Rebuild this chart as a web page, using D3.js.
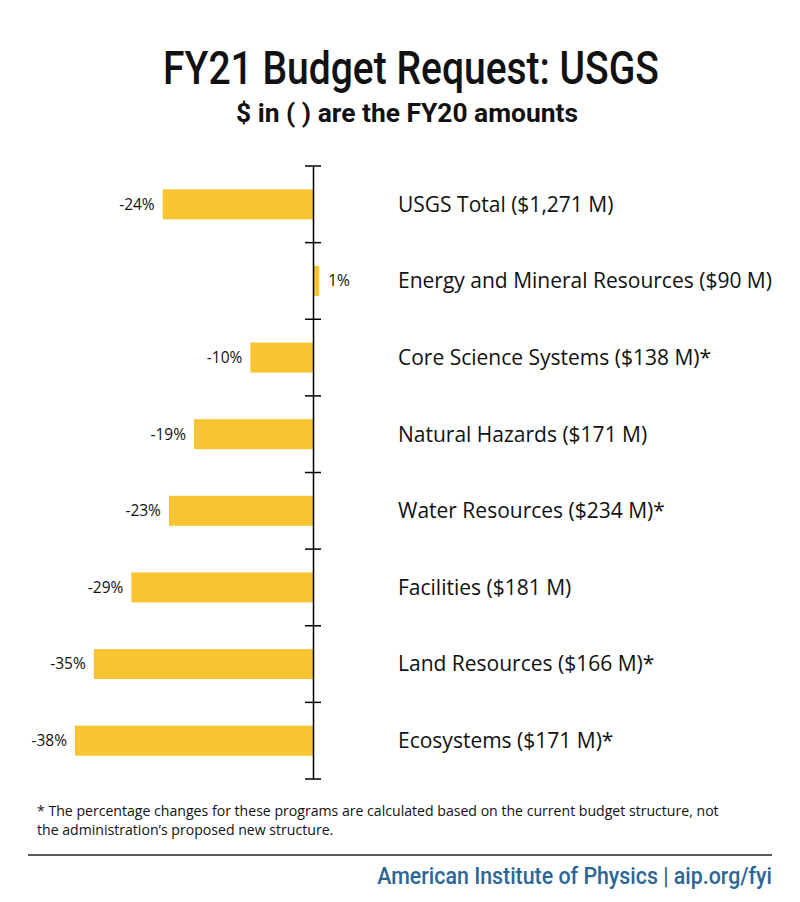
<!DOCTYPE html>
<html>
<head>
<meta charset="utf-8">
<script src="https://cdn.jsdelivr.net/npm/d3@7"></script>
<style>
  html, body { margin: 0; padding: 0; background: #fff; }
  svg { display: block; }
</style>
</head>
<body>
<svg id="chart" width="800" height="902"></svg>
<script>
const categories = [
  "USGS Total ($1,271 M)",
  "Energy and Mineral Resources ($90 M)",
  "Core Science Systems ($138 M)*",
  "Natural Hazards ($171 M)",
  "Water Resources ($234 M)*",
  "Facilities ($181 M)",
  "Land Resources ($166 M)*",
  "Ecosystems ($171 M)*"
];
const changes = [-24, 1, -10, -19, -23, -29, -35, -38];
const valueLabels = ["-24%", "1%", "-10%", "-19%", "-23%", "-29%", "-35%", "-38%"];
const titleText = "FY21 Budget Request: USGS";
const subtitleText = "$ in ( ) are the FY20 amounts";
const footnoteLines = [
  "* The percentage changes for these programs are calculated based on the current budget structure, not",
  "the administration\u2019s proposed new structure."
];
const creditText = "American Institute of Physics | aip.org/fyi";

const svg = d3.select("#chart");
const bodyFont = "'Open Sans', Lato, 'Noto Sans', sans-serif";
const condFont = "Roboto, 'Liberation Sans', sans-serif";

// Condensed-looking text: natural text scaled horizontally to a target width
function squeezed(txt, cx, cy, anchor, size, weight, width, fill) {
  const gg = svg.append("g");
  const t = gg.append("text")
    .attr("text-anchor", anchor)
    .attr("font-family", condFont)
    .attr("font-weight", weight)
    .attr("font-size", size)
    .attr("fill", fill)
    .text(txt);
  const len = t.node().getComputedTextLength();
  const s = width / len;
  gg.attr("transform", `translate(${cx},${cy}) scale(${s},1)`);
  return t;
}

squeezed(titleText, 411, 84, "middle", 46, 500, 496, "#111");
squeezed(subtitleText, 407, 122, "middle", 25, "bold", 342, "#111");

// Scales
const y = d3.scaleBand().domain(categories).range([166, 779]).padding(0);
const x = d3.scaleLinear().domain([-38, 0]).range([75, 313]);
const barH = 30;

const g = svg.append("g");

g.selectAll("rect.bar")
  .data(categories)
  .join("rect")
  .attr("class", "bar")
  .attr("x", (d, i) => Math.min(x(changes[i]), x(0)))
  .attr("width", (d, i) => Math.abs(x(changes[i]) - x(0)))
  .attr("y", d => y(d) + y.bandwidth() / 2 - barH / 2)
  .attr("height", barH)
  .attr("fill", "#F9C431");

// Axis (vertical line with ticks at band boundaries)
const axis = d3.axisLeft(y).tickSize(0).tickFormat("");
const axisG = g.append("g").attr("transform", `translate(${x(0)},0)`).call(axis);
axisG.select(".domain").attr("stroke", "#000").attr("stroke-width", 1.5);
const boundaries = categories.map(d => y(d)).concat([y.range()[1]]);
g.selectAll("line.tick")
  .data(boundaries)
  .join("line")
  .attr("class", "tick")
  .attr("x1", x(0) - 8).attr("x2", x(0) + 8)
  .attr("y1", d => d).attr("y2", d => d)
  .attr("stroke", "#000").attr("stroke-width", 1.5);

// Value labels
g.selectAll("text.val")
  .data(categories)
  .join("text")
  .attr("class", "val")
  .attr("x", (d, i) => changes[i] < 0 ? x(changes[i]) - 8 : x(changes[i]) + 9)
  .attr("y", d => y(d) + y.bandwidth() / 2)
  .attr("dy", "0.35em")
  .attr("text-anchor", (d, i) => changes[i] < 0 ? "end" : "start")
  .attr("font-family", bodyFont)
  .attr("font-size", 15.5)
  .attr("fill", "#111")
  .text((d, i) => valueLabels[i]);

// Category labels
g.selectAll("text.cat")
  .data(categories)
  .join("text")
  .attr("class", "cat")
  .attr("x", 398)
  .attr("y", d => y(d) + y.bandwidth() / 2)
  .attr("dy", "0.35em")
  .attr("font-family", bodyFont)
  .attr("font-size", 21)
  .attr("fill", "#111")
  .text(d => d);

// Footnote
svg.selectAll("text.foot")
  .data(footnoteLines)
  .join("text")
  .attr("class", "foot")
  .attr("x", 37)
  .attr("y", (d, i) => 816 + i * 19)
  .attr("font-family", bodyFont)
  .attr("font-size", 14.1)
  .attr("fill", "#111")
  .text(d => d);

// Rule
svg.append("line")
  .attr("x1", 28).attr("x2", 772)
  .attr("y1", 855).attr("y2", 855)
  .attr("stroke", "#222").attr("stroke-width", 1.5);

// Credit
squeezed(creditText, 772, 884, "end", 24, 500, 395, "#2B6696");
</script>
</body>
</html>
